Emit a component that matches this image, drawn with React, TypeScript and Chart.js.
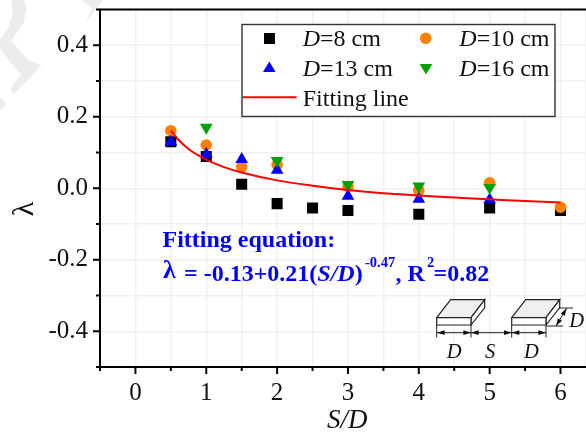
import React, { useEffect, useRef } from "react";
import { Chart, registerables } from "chart.js";

Chart.register(...registerables);

const blackX = [0.5, 1, 1.5, 2, 2.5, 3, 4, 5, 6];
const blackY = [0.13, 0.089, 0.011, -0.043, -0.055, -0.062, -0.073, -0.055, -0.062];
const orangeX = [0.5, 1, 1.5, 2, 3, 4, 5, 6];
const orangeY = [0.161, 0.121, 0.06, 0.066, 0.005, -0.006, 0.015, -0.053];
const blueX = [0.5, 1, 1.5, 2, 3, 4, 5];
const blueY = [0.13, 0.095, 0.081, 0.051, -0.022, -0.03, -0.032];
const greenX = [1, 2, 3, 4, 5];
const greenY = [0.17, 0.077, 0.01, 0.006, 0.002];
const fitX = [0.5, 0.6, 0.75, 1, 1.25, 1.5, 2, 2.5, 3, 3.5, 4, 4.5, 5, 5.5, 6];
const fitY = [0.161, 0.137, 0.11, 0.08, 0.059, 0.044, 0.022, 0.007, -0.005, -0.014, -0.02, -0.026, -0.031, -0.036, -0.04];
const xTicks = [-0.5, 0, 0.5, 1, 1.5, 2, 2.5, 3, 3.5, 4, 4.5, 5, 5.5, 6, 6.36];
const yTicks = [-0.5, -0.4, -0.3, -0.2, -0.1, 0, 0.1, 0.2, 0.3, 0.4, 0.5];
const xLabels = [0, 1, 2, 3, 4, 5, 6];
const yLabels = [-0.4, -0.2, 0, 0.2, 0.4];

const SERIF = '"Liberation Serif", "Times New Roman", serif';
const INK = "#111111";

type Run = [string, string];
function runs(ctx: CanvasRenderingContext2D, x: number, y: number, items: Run[], color: string) {
  ctx.fillStyle = color;
  ctx.textBaseline = "alphabetic";
  ctx.textAlign = "left";
  let cx = x;
  for (const [font, text] of items) {
    ctx.font = font;
    ctx.fillText(text, cx, y);
    cx += ctx.measureText(text).width;
  }
}

function poly(ctx: CanvasRenderingContext2D, pts: number[][], fill?: string, stroke = true) {
  ctx.beginPath();
  pts.forEach((p, i) => (i ? ctx.lineTo(p[0], p[1]) : ctx.moveTo(p[0], p[1])));
  ctx.closePath();
  if (fill) {
    ctx.fillStyle = fill;
    ctx.fill();
  }
  if (stroke) ctx.stroke();
}

function line(ctx: CanvasRenderingContext2D, x1: number, y1: number, x2: number, y2: number) {
  ctx.beginPath();
  ctx.moveTo(x1, y1);
  ctx.lineTo(x2, y2);
  ctx.stroke();
}

function arrow(ctx: CanvasRenderingContext2D, x: number, y: number, ang: number, size = 8) {
  ctx.beginPath();
  ctx.moveTo(x, y);
  ctx.lineTo(x - size * Math.cos(ang - 0.3), y - size * Math.sin(ang - 0.3));
  ctx.lineTo(x - size * Math.cos(ang + 0.3), y - size * Math.sin(ang + 0.3));
  ctx.closePath();
  ctx.fillStyle = "#111";
  ctx.fill();
}

function dblArrow(ctx: CanvasRenderingContext2D, x1: number, y1: number, x2: number, y2: number) {
  line(ctx, x1, y1, x2, y2);
  const a = Math.atan2(y2 - y1, x2 - x1);
  arrow(ctx, x2, y2, a);
  arrow(ctx, x1, y1, a + Math.PI);
}

function block(ctx: CanvasRenderingContext2D, x: number) {
  ctx.strokeStyle = "#222";
  ctx.lineWidth = 1.2;
  poly(ctx, [[x, 317.7], [x + 34.3, 317.7], [x + 48, 299.7], [x + 14, 299.7]], "#efefef");
  poly(ctx, [[x + 34.3, 317.7], [x + 48, 299.7], [x + 48, 307.5], [x + 34.3, 325]], "#ffffff");
  poly(ctx, [[x, 317.7], [x + 34.3, 317.7], [x + 34.3, 325], [x, 325]], "#ffffff");
}

const decorations = {
  id: "decorations",
  beforeDraw(chart: any) {
    const ctx = chart.ctx as CanvasRenderingContext2D;
    ctx.save();
    const wm = "#ececec";
    poly(ctx, [[11, 0], [24, 0], [26.7, 10], [23.3, 23.3], [15, 35], [11, 41], [28, 60], [41.7, 65], [13.3, 95], [10.7, 88], [20.7, 75], [5, 55], [0, 48], [0, 40], [8, 28], [13, 14]], wm, false);
    poly(ctx, [[0, 97], [6.7, 104], [0, 110]], wm, false);
    poly(ctx, [[82, 0], [103, 0], [85, 23], [92, 8]], wm, false);
    ctx.restore();
  },
  afterDatasetsDraw(chart: any) {
    const ctx = chart.ctx as CanvasRenderingContext2D;
    const { left, right, top, bottom } = chart.chartArea;
    const xs = chart.scales.x;
    const ys = chart.scales.y;
    ctx.save();

    // axes and tick marks
    ctx.strokeStyle = "#000";
    ctx.lineWidth = 2;
    line(ctx, left - 1, top, right, top);
    line(ctx, left, top, left, bottom + 1);
    line(ctx, left, bottom, right, bottom);
    xTicks.slice(0, -1).forEach((v) => {
      const p = xs.getPixelForValue(v);
      line(ctx, p, bottom, p, bottom + (Number.isInteger(v) ? 7 : 4));
    });
    yTicks.forEach((v, i) => {
      const p = ys.getPixelForValue(v);
      line(ctx, left, p, left - (i % 2 === 1 ? 7 : 4), p);
    });

    // axis titles
    runs(ctx, 327, 428, [[`italic 27px ${SERIF}`, "S/D"]], INK);
    ctx.save();
    ctx.translate(33, 209);
    ctx.rotate(-Math.PI / 2);
    ctx.font = `30px ${SERIF}`;
    ctx.textAlign = "center";
    ctx.textBaseline = "alphabetic";
    ctx.fillStyle = INK;
    ctx.fillText("λ", 0, 0);
    ctx.restore();

    // legend
    ctx.fillStyle = "#fff";
    ctx.strokeStyle = "#333";
    ctx.lineWidth = 1.4;
    ctx.fillRect(242, 24.5, 313, 92);
    ctx.strokeRect(242, 24.5, 313, 92);
    const it = `italic 24px ${SERIF}`;
    const rg = `24px ${SERIF}`;
    runs(ctx, 302.7, 46, [[it, "D"], [rg, "=8 cm"]], INK);
    runs(ctx, 302.7, 76, [[it, "D"], [rg, "=13 cm"]], INK);
    runs(ctx, 302.7, 105.5, [[rg, "Fitting line"]], INK);
    runs(ctx, 459.3, 46, [[it, "D"], [rg, "=10 cm"]], INK);
    runs(ctx, 459.3, 76, [[it, "D"], [rg, "=16 cm"]], INK);
    ctx.fillStyle = "#000";
    ctx.fillRect(264, 33, 11, 11);
    ctx.fillStyle = "#ff8000";
    ctx.beginPath();
    ctx.arc(425.7, 38.3, 5.8, 0, Math.PI * 2);
    ctx.fill();
    ctx.fillStyle = "#0000ff";
    ctx.beginPath();
    ctx.moveTo(269.3, 61.5);
    ctx.lineTo(275.6, 72);
    ctx.lineTo(263, 72);
    ctx.closePath();
    ctx.fill();
    ctx.fillStyle = "#00a000";
    ctx.beginPath();
    ctx.moveTo(426, 74.5);
    ctx.lineTo(432.3, 64);
    ctx.lineTo(419.7, 64);
    ctx.closePath();
    ctx.fill();
    ctx.strokeStyle = "#ff0000";
    ctx.lineWidth = 2;
    line(ctx, 242.7, 97.3, 296.7, 97.3);

    // fitted equation
    const b = `bold 24px ${SERIF}`;
    const bi = `italic bold 24px ${SERIF}`;
    const sup = `bold 14.5px ${SERIF}`;
    const blue = "#0000ff";
    runs(ctx, 162.5, 246.5, [[b, "Fitting equation:"]], blue);
    runs(ctx, 163, 278, [[`bold 26px ${SERIF}`, "λ"]], blue);
    runs(ctx, 184, 281, [[b, "= -0.13+0.21("], [bi, "S/D"], [b, ")"]], blue);
    runs(ctx, 365, 266.5, [[sup, "-0.47"]], blue);
    runs(ctx, 395.5, 281, [[b, ", R"]], blue);
    runs(ctx, 427, 266.5, [[sup, "2"]], blue);
    runs(ctx, 433.5, 281, [[b, "=0.82"]], blue);

    // specimen sketch
    block(ctx, 436.7);
    block(ctx, 511.7);
    ctx.strokeStyle = "#222";
    ctx.lineWidth = 1;
    [436.7, 471, 511.7, 546].forEach((x) => line(ctx, x, 325, x, 337.5));
    dblArrow(ctx, 437, 332.7, 471, 332.7);
    dblArrow(ctx, 471, 332.7, 511.7, 332.7);
    dblArrow(ctx, 511.7, 332.7, 546, 332.7);
    line(ctx, 559.3, 308, 573, 308);
    line(ctx, 546.7, 326, 563, 326);
    dblArrow(ctx, 566.7, 308.3, 556, 326);
    const sk = `italic 20.5px ${SERIF}`;
    runs(ctx, 446.7, 358, [[sk, "D"]], INK);
    runs(ctx, 485, 358, [[sk, "S"]], INK);
    runs(ctx, 524, 358, [[sk, "D"]], INK);
    runs(ctx, 569.3, 326.7, [[sk, "D"]], INK);

    ctx.restore();
  },
};

export default function App() {
  const ref = useRef<HTMLCanvasElement>(null);
  useEffect(() => {
    const pts = (xs: number[], ys: number[]) => xs.map((x, i) => ({ x, y: ys[i] }));
    const chart = new Chart(ref.current as HTMLCanvasElement, {
      type: "scatter",
      data: {
        datasets: [
          {
            label: "Fitting line",
            data: pts(fitX, fitY),
            showLine: true,
            borderColor: "#ff0000",
            borderWidth: 2,
            pointRadius: 0,
            cubicInterpolationMode: "monotone",
            order: 0,
          },
          { label: "D=16 cm", data: pts(greenX, greenY), pointStyle: "triangle", rotation: 180, pointRadius: 7.3, backgroundColor: "#00a000", borderWidth: 0, order: 1 },
          { label: "D=13 cm", data: pts(blueX, blueY), pointStyle: "triangle", pointRadius: 7.3, backgroundColor: "#0000ff", borderWidth: 0, order: 2 },
          { label: "D=10 cm", data: pts(orangeX, orangeY), pointStyle: "circle", pointRadius: 5.8, backgroundColor: "#ff8000", borderWidth: 0, order: 3 },
          { label: "D=8 cm", data: pts(blackX, blackY), pointStyle: "rect", pointRadius: 7.8, backgroundColor: "#000000", borderWidth: 0, order: 4 },
        ] as any,
      },
      options: {
        animation: false,
        responsive: false,
        layout: { autoPadding: false, padding: { top: 9.5, left: 0, right: 0, bottom: 0 } },
        plugins: { legend: { display: false }, tooltip: { enabled: false } },
        scales: {
          x: {
            type: "linear",
            min: xTicks[0],
            max: xTicks[xTicks.length - 1],
            afterBuildTicks: (s: any) => {
              s.ticks = xTicks.map((value) => ({ value }));
            },
            afterFit: (s: any) => {
              s.height = 65;
              s.paddingLeft = 0;
              s.paddingRight = 0;
            },
            grid: { color: "#f1f1f1", lineWidth: 1.5, drawTicks: false, drawOnChartArea: true },
            border: { display: false },
            ticks: {
              autoSkip: false,
              maxRotation: 0,
              padding: 11,
              color: INK,
              font: { family: SERIF, size: 25 },
              callback: (v: any) => (xLabels.includes(v) ? String(v) : ""),
            },
          },
          y: {
            type: "linear",
            min: yTicks[0],
            max: yTicks[yTicks.length - 1],
            afterBuildTicks: (s: any) => {
              s.ticks = yTicks.map((value) => ({ value }));
            },
            afterFit: (s: any) => {
              s.width = 100;
              s.paddingTop = 0;
              s.paddingBottom = 0;
            },
            grid: { color: "#f1f1f1", lineWidth: 1.5, drawTicks: false },
            border: { display: false },
            ticks: {
              autoSkip: false,
              padding: 12,
              color: INK,
              font: { family: SERIF, size: 25 },
              callback: (v: any) => (yLabels.includes(v) ? Number(v).toFixed(1) : ""),
            },
          },
        },
      },
      plugins: [decorations],
    } as any);
    return () => chart.destroy();
  }, []);
  return (
    <div style={{ position: "absolute", left: 0, top: 0, width: 586, height: 432 }}>
      <canvas ref={ref} width={586} height={432} style={{ display: "block" }} />
    </div>
  );
}
